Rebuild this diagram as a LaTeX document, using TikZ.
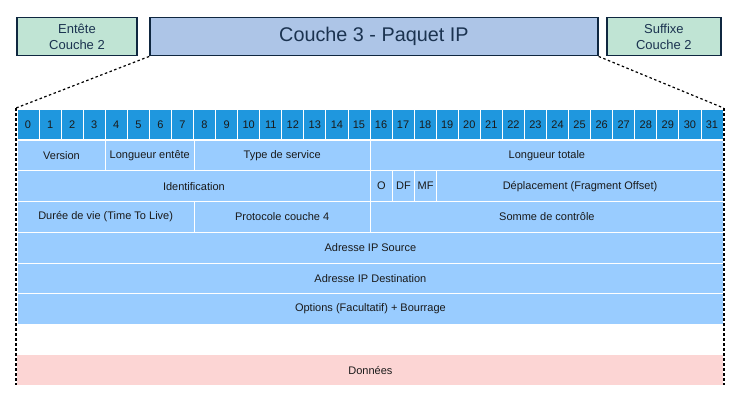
\documentclass[tikz,border=0pt]{standalone}
\usepackage{fontspec}
\setmainfont{Liberation Sans}

\definecolor{boxline}{HTML}{0F2740}
\definecolor{boxtext}{HTML}{1B3350}
\definecolor{l2green}{HTML}{C0E4D4}
\definecolor{l3blue}{HTML}{ADC5E7}
\definecolor{bitblue}{HTML}{1F97DE}
\definecolor{fieldblue}{HTML}{99CCFF}
\definecolor{datapink}{HTML}{FCD5D4}
\definecolor{ink}{HTML}{1A1A1A}

\tikzset{
  layerbox/.style={draw=boxline, line width=1.5pt, text=boxtext, align=center,
    minimum height=38pt, inner sep=0pt},
  bitcell/.style={fill=bitblue, draw=white, line width=0.8pt, text=ink,
    minimum width=\cw pt, minimum height=\rh pt, inner sep=0pt,
    font=\fontsize{11}{13}\selectfont},
  field/.style={fill=fieldblue, draw=white, line width=0.8pt, text=ink,
    minimum height=\rh pt, inner sep=0pt, anchor=north west,
    font=\fontsize{11}{13}\selectfont},
  cutline/.style={line width=2pt, dash pattern=on 3pt off 2pt},
  zoomline/.style={line width=1.2pt, dash pattern=on 2.5pt off 2.5pt}
}

\begin{document}
\begin{tikzpicture}[x=1pt, y=-1pt]
  \pgfmathsetmacro{\cw}{706/32}
  \pgfmathsetmacro{\rh}{30.7}
  \useasboundingbox (0,0) rectangle (743,402);

  % couches
  \node[layerbox, fill=l2green, minimum width=120pt,
    font=\fontsize{13}{16}\selectfont] (l2head) at (77,36.7) {Entête\\Couche 2};
  \node[layerbox, fill=l3blue, minimum width=448pt,
    font=\fontsize{19.8}{22}\selectfont] (l3) at (373.9,36.7) {Couche 3 - Paquet IP};
  \node[layerbox, fill=l2green, minimum width=114pt,
    font=\fontsize{13}{16}\selectfont] (l2tail) at (663.9,36.7) {Suffixe\\Couche 2};

  % numeros de bits
  \foreach \i in {0,...,31}
    \node[bitcell] (b\i) at ({17+(\i+0.5)*\cw}, 124.35) {\i};

  % ligne 1
  \node[field, minimum width=4*\cw pt] (version) at (17,139.7) {Version};
  \node[field, minimum width=4*\cw pt] (ihl) at ({17+4*\cw},139.7) {Longueur entête};
  \node[field, minimum width=8*\cw pt] (tos) at ({17+8*\cw},139.7) {Type de service};
  \node[field, minimum width=16*\cw pt] (len) at ({17+16*\cw},139.7) {Longueur totale};

  % ligne 2
  \node[field, minimum width=16*\cw pt] (ident) at (17,170.4) {Identification};
  \node[field, minimum width=\cw pt] (flago) at ({17+16*\cw},170.4) {O};
  \node[field, minimum width=\cw pt] (flagdf) at ({17+17*\cw},170.4) {DF};
  \node[field, minimum width=\cw pt] (flagmf) at ({17+18*\cw},170.4) {MF};
  \node[field, minimum width=13*\cw pt] (offset) at ({17+19*\cw},170.4) {Déplacement (Fragment Offset)};

  % ligne 3
  \node[field, minimum width=8*\cw pt] (ttl) at (17,201.1) {Durée de vie (Time To Live)};
  \node[field, minimum width=8*\cw pt] (proto) at ({17+8*\cw},201.1) {Protocole couche 4};
  \node[field, minimum width=16*\cw pt] (csum) at ({17+16*\cw},201.1) {Somme de contrôle};

  % adresses et options
  \node[field, minimum width=32*\cw pt] (src) at (17,231.8) {Adresse IP Source};
  \node[field, minimum width=32*\cw pt] (dst) at (17,262.5) {Adresse IP Destination};
  \node[field, minimum width=32*\cw pt] (opts) at (17,293.2) {Options (Facultatif) + Bourrage};

  % donnees
  \node[field, fill=datapink, draw=none, minimum width=32*\cw pt, minimum height=30pt]
    (data) at (17,355) {Données};

  % zoom sur le paquet
  \coordinate (tl) at (16,108);
  \coordinate (bl) at (16,385);
  \coordinate (tr) at (723.6,108);
  \coordinate (br) at (723.6,385);
  \draw[cutline] (tl) -- (bl);
  \draw[cutline] (tr) -- (br);
  \draw[zoomline] (l3.south west) -- (tl);
  \draw[zoomline] (l3.south east) -- (tr);
\end{tikzpicture}
\end{document}
